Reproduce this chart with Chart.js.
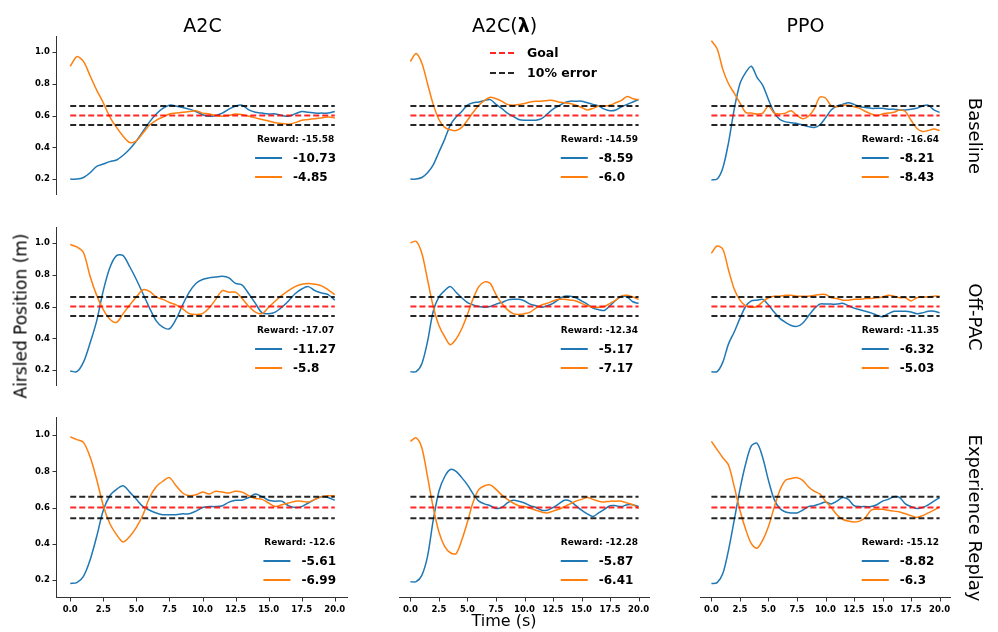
<!DOCTYPE html>
<html><head><meta charset="utf-8">
<script src="https://cdn.jsdelivr.net/npm/chart.js@4.4.0/dist/chart.umd.min.js"></script>
<style>
html,body{margin:0;padding:0;background:#fff;}
#wrap{position:relative;width:998px;height:632px;overflow:hidden;font-family:"DejaVu Sans",sans-serif;background:#fff;}
#wrap canvas{position:absolute;left:0;top:0;}
.t{position:absolute;white-space:nowrap;color:#000;line-height:1;transform:translate(-50%,-50%);}
.rot90{transform:translate(-50%,-50%) rotate(90deg);}
.rotm90{transform:translate(-50%,-50%) rotate(-90deg);}
</style></head><body><div id="wrap"></div>
<script>
// ---------- data ----------
const timeSteps = [0,0.5,1,1.5,2,2.5,3,3.5,4,4.5,5,5.5,6,6.5,7,7.5,8,8.5,9,9.5,10,10.5,11,11.5,12,12.5,13,13.5,14,14.5,15,15.5,16,16.5,17,17.5,18,18.5,19,19.5,20];
const columnTitles = ['A2C', 'A2C(<b>λ</b>)', 'PPO'];
const rowTitles = ['Baseline', 'Off-PAC', 'Experience Replay'];
const xTicks = [0,2.5,5,7.5,10,12.5,15,17.5,20];
const yTicks = [0.2,0.4,0.6,0.8,1.0];
const goalLevel = 0.6;
const errorUpper = 0.66;
const errorLower = 0.54;
const goalSpan = [0, 20];

// Baseline row
const a2cBaseBlue = [0.20,0.20,0.21,0.24,0.28,0.295,0.31,0.32,0.35,0.39,0.44,0.50,0.56,0.61,0.645,0.665,0.66,0.65,0.64,0.625,0.605,0.595,0.60,0.615,0.64,0.66,0.665,0.635,0.62,0.615,0.61,0.61,0.60,0.595,0.61,0.625,0.62,0.615,0.615,0.615,0.625];
const a2cBaseOrange = [0.91,0.97,0.94,0.85,0.76,0.68,0.59,0.525,0.47,0.43,0.44,0.49,0.54,0.57,0.59,0.61,0.615,0.62,0.625,0.63,0.615,0.61,0.60,0.595,0.60,0.61,0.605,0.595,0.585,0.575,0.565,0.555,0.55,0.545,0.555,0.57,0.575,0.58,0.585,0.59,0.585];
const a2cLamBaseBlue = [0.20,0.20,0.21,0.24,0.29,0.37,0.45,0.54,0.59,0.625,0.665,0.68,0.685,0.695,0.70,0.67,0.645,0.615,0.595,0.575,0.57,0.57,0.57,0.58,0.61,0.64,0.66,0.68,0.69,0.69,0.69,0.68,0.67,0.66,0.64,0.63,0.635,0.655,0.67,0.685,0.70];
const a2cLamBaseOrange = [0.94,0.99,0.93,0.80,0.67,0.575,0.525,0.51,0.505,0.525,0.57,0.62,0.665,0.695,0.715,0.705,0.69,0.67,0.665,0.67,0.675,0.685,0.69,0.69,0.695,0.695,0.685,0.68,0.675,0.665,0.65,0.635,0.645,0.66,0.66,0.665,0.68,0.695,0.72,0.705,0.70];
const ppoBaseBlue = [0.195,0.20,0.27,0.43,0.64,0.80,0.87,0.91,0.84,0.79,0.70,0.62,0.575,0.56,0.555,0.55,0.54,0.53,0.525,0.54,0.585,0.635,0.66,0.67,0.68,0.67,0.655,0.65,0.645,0.645,0.645,0.64,0.64,0.635,0.635,0.64,0.645,0.66,0.665,0.635,0.62];
const ppoBaseOrange = [1.07,1.02,0.89,0.80,0.74,0.68,0.62,0.615,0.61,0.615,0.66,0.615,0.61,0.615,0.63,0.60,0.58,0.595,0.64,0.715,0.71,0.66,0.655,0.665,0.665,0.655,0.645,0.625,0.61,0.60,0.61,0.615,0.62,0.635,0.625,0.57,0.52,0.50,0.505,0.515,0.505];

// Off-PAC row
const a2cOffBlue = [0.195,0.19,0.25,0.37,0.51,0.70,0.845,0.92,0.92,0.85,0.77,0.68,0.59,0.51,0.47,0.46,0.52,0.61,0.69,0.745,0.77,0.78,0.785,0.79,0.78,0.745,0.735,0.68,0.62,0.56,0.555,0.565,0.595,0.635,0.68,0.71,0.725,0.70,0.685,0.675,0.64];
const a2cOffOrange = [0.99,0.975,0.94,0.79,0.67,0.58,0.52,0.50,0.555,0.61,0.66,0.705,0.695,0.66,0.645,0.625,0.61,0.585,0.555,0.55,0.555,0.59,0.645,0.70,0.69,0.69,0.65,0.60,0.565,0.555,0.595,0.635,0.67,0.70,0.725,0.74,0.745,0.74,0.73,0.705,0.675];
const a2cLamOffBlue = [0.19,0.19,0.24,0.38,0.57,0.66,0.70,0.725,0.69,0.655,0.625,0.61,0.60,0.595,0.60,0.615,0.625,0.64,0.645,0.645,0.635,0.615,0.605,0.595,0.605,0.62,0.645,0.665,0.665,0.655,0.635,0.615,0.59,0.58,0.575,0.605,0.64,0.665,0.66,0.63,0.62];
const a2cLamOffOrange = [1.0,1.01,0.935,0.77,0.60,0.48,0.41,0.36,0.395,0.46,0.55,0.65,0.725,0.755,0.745,0.675,0.62,0.58,0.555,0.55,0.555,0.565,0.59,0.61,0.62,0.635,0.645,0.645,0.64,0.635,0.62,0.605,0.595,0.595,0.60,0.62,0.64,0.665,0.67,0.66,0.645];
const ppoOffBlue = [0.19,0.19,0.25,0.365,0.44,0.525,0.60,0.635,0.64,0.645,0.61,0.565,0.525,0.50,0.48,0.475,0.495,0.54,0.585,0.615,0.615,0.615,0.615,0.62,0.605,0.59,0.58,0.57,0.56,0.545,0.535,0.555,0.57,0.57,0.57,0.565,0.555,0.56,0.57,0.57,0.56];
const ppoOffOrange = [0.935,0.98,0.96,0.83,0.71,0.64,0.605,0.595,0.60,0.63,0.655,0.665,0.665,0.67,0.67,0.665,0.665,0.665,0.67,0.675,0.675,0.655,0.65,0.64,0.64,0.645,0.645,0.65,0.65,0.655,0.66,0.67,0.665,0.655,0.655,0.635,0.655,0.66,0.66,0.665,0.665];

// Experience Replay row
const a2cErBlue = [0.18,0.185,0.22,0.31,0.44,0.585,0.665,0.70,0.72,0.685,0.645,0.605,0.585,0.57,0.56,0.56,0.56,0.565,0.565,0.58,0.60,0.605,0.605,0.61,0.63,0.64,0.64,0.655,0.675,0.66,0.64,0.635,0.635,0.61,0.60,0.605,0.625,0.645,0.66,0.655,0.64];
const a2cErOrange = [0.99,0.975,0.96,0.88,0.755,0.61,0.51,0.45,0.41,0.44,0.49,0.56,0.655,0.715,0.745,0.765,0.72,0.68,0.665,0.67,0.685,0.675,0.69,0.685,0.68,0.69,0.685,0.665,0.65,0.645,0.625,0.605,0.615,0.625,0.635,0.635,0.63,0.645,0.66,0.665,0.665];
const a2cLamErBlue = [0.19,0.19,0.225,0.33,0.53,0.69,0.77,0.81,0.80,0.765,0.725,0.675,0.635,0.62,0.61,0.595,0.60,0.625,0.64,0.635,0.625,0.61,0.60,0.585,0.585,0.60,0.62,0.64,0.635,0.61,0.585,0.565,0.55,0.57,0.59,0.61,0.61,0.605,0.615,0.615,0.605];
const a2cLamErOrange = [0.965,0.985,0.93,0.77,0.60,0.465,0.385,0.35,0.345,0.42,0.52,0.63,0.70,0.72,0.725,0.70,0.67,0.645,0.625,0.61,0.605,0.595,0.585,0.575,0.57,0.58,0.59,0.605,0.62,0.635,0.645,0.655,0.645,0.635,0.63,0.635,0.635,0.635,0.625,0.615,0.595];
const ppoErBlue = [0.18,0.185,0.235,0.365,0.53,0.70,0.84,0.94,0.955,0.875,0.75,0.645,0.595,0.575,0.57,0.57,0.585,0.605,0.61,0.62,0.63,0.62,0.635,0.655,0.645,0.61,0.605,0.605,0.605,0.615,0.635,0.645,0.66,0.655,0.62,0.605,0.595,0.60,0.615,0.635,0.655];
const ppoErOrange = [0.965,0.92,0.875,0.835,0.715,0.585,0.48,0.40,0.375,0.42,0.495,0.60,0.695,0.75,0.76,0.765,0.75,0.715,0.69,0.675,0.635,0.60,0.56,0.535,0.525,0.52,0.525,0.545,0.585,0.59,0.59,0.585,0.58,0.575,0.565,0.555,0.545,0.555,0.57,0.585,0.605];

// legend numbers
const rewardLabels = [['-15.58','-14.59','-16.64'],['-17.07','-12.34','-11.35'],['-12.6','-12.28','-15.12']];
const blueLabels   = [['-10.73','-8.59','-8.21'],['-11.27','-5.17','-6.32'],['-5.61','-5.87','-8.82']];
const orangeLabels = [['-4.85','-6.0','-8.43'],['-5.8','-7.17','-5.03'],['-6.99','-6.41','-6.3']];
const legendGoal = 'Goal';
const legendError = '10% error';

const seriesGrid = [
  [[a2cBaseBlue,a2cBaseOrange],[a2cLamBaseBlue,a2cLamBaseOrange],[ppoBaseBlue,ppoBaseOrange]],
  [[a2cOffBlue,a2cOffOrange],[a2cLamOffBlue,a2cLamOffOrange],[ppoOffBlue,ppoOffOrange]],
  [[a2cErBlue,a2cErOrange],[a2cLamErBlue,a2cLamErOrange],[ppoErBlue,ppoErOrange]]
];

// ---------- layout ----------
const W = 998, H = 632;
const colL = [57, 359, 660], colR = [348, 650, 951];
const rowT = [36, 227, 417], rowB = [217, 408, 598];
const BLUE = '#1f77b4', ORANGE = '#ff7f0e', RED = 'rgba(255,0,0,0.85)', BLACK = 'rgba(0,0,0,0.85)';
const SPINE = '#333';
const FF = '"DejaVu Sans", sans-serif';
Chart.defaults.font.family = FF;

const wrap = document.getElementById('wrap');
function addText(html, x, y, size, cls, weight){
  const d = document.createElement('div');
  d.className = 't' + (cls ? ' ' + cls : '');
  d.innerHTML = html;
  d.style.left = x + 'px'; d.style.top = y + 'px';
  d.style.fontSize = size + 'px';
  if (weight) d.style.fontWeight = weight;
  wrap.appendChild(d);
}

function pts(arr){ return timeSteps.map((t,i)=>({x:t, y:arr[i]})); }
function hline(v){ return [{x:goalSpan[0], y:v},{x:goalSpan[1], y:v}]; }

// spines + tick marks drawn from the chart's own scales
const spinePlugin = {
  id: 'spines',
  afterDraw(chart){
    const o = chart.options.plugins.spines;
    const ctx = chart.ctx, a = chart.chartArea;
    ctx.save();
    ctx.strokeStyle = SPINE; ctx.lineWidth = 1;
    if (o.left) {
      const x = Math.round(a.left) - 0.5;
      ctx.beginPath(); ctx.moveTo(x, a.top); ctx.lineTo(x, a.bottom); ctx.stroke();
      yTicks.forEach(v => {
        const y = Math.round(chart.scales.y.getPixelForValue(v)) + 0.5;
        ctx.beginPath(); ctx.moveTo(x - 4, y); ctx.lineTo(x, y); ctx.stroke();
      });
    }
    if (o.bottom) {
      const y = Math.round(a.bottom) - 0.5;
      ctx.beginPath(); ctx.moveTo(a.left, y); ctx.lineTo(a.right, y); ctx.stroke();
      xTicks.forEach(v => {
        const x = Math.round(chart.scales.x.getPixelForValue(v)) + 0.5;
        ctx.beginPath(); ctx.moveTo(x, y); ctx.lineTo(x, y + 4); ctx.stroke();
      });
    }
    ctx.restore();
  }
};

const legendPlugin = {
  id: 'panelLegend',
  afterDatasetsDraw(chart){
    const o = chart.options.plugins.panelLegend;
    const r = o.row, c = o.col;
    const ctx = chart.ctx, a = chart.chartArea;
    ctx.save();
    const right = a.right - 12;
    const title = 'Reward: ' + rewardLabels[r][c];
    ctx.font = 'bold 9px ' + FF;
    const tw = ctx.measureText(title).width;
    ctx.font = 'bold 12px ' + FF;
    const ew = Math.max(ctx.measureText(blueLabels[r][c]).width, ctx.measureText(orangeLabels[r][c]).width);
    const boxW = Math.max(tw, 27 + 11 + ew);
    const left = right - boxW;
    ctx.fillStyle = '#000';
    ctx.textBaseline = 'middle';
    ctx.textAlign = 'center';
    ctx.font = 'bold 9px ' + FF;
    ctx.fillText(title, left + boxW/2, a.bottom - 55);
    ctx.textAlign = 'left';
    ctx.font = 'bold 12px ' + FF;
    const entries = [[BLUE, blueLabels[r][c], a.bottom - 37], [ORANGE, orangeLabels[r][c], a.bottom - 18]];
    entries.forEach(([col, lab, y])=>{
      ctx.strokeStyle = col; ctx.lineWidth = 2;
      ctx.beginPath(); ctx.moveTo(left, y); ctx.lineTo(left + 27, y); ctx.stroke();
      ctx.fillText(lab, left + 38, y + 0.5);
    });
    if (r === 0 && c === 1) {
      ctx.lineWidth = 2; ctx.setLineDash([6,3]);
      const lx = a.left + 91;
      [[RED, legendGoal, 53], [BLACK, legendError, 73]].forEach(([col, lab, y])=>{
        ctx.strokeStyle = col;
        ctx.beginPath(); ctx.moveTo(lx, y); ctx.lineTo(lx + 27, y); ctx.stroke();
        ctx.font = 'bold 12.5px ' + FF;
        ctx.fillText(lab, lx + 37, y + 0.5);
      });
    }
    ctx.restore();
  }
};

for (let r = 0; r < 3; r++) {
  for (let c = 0; c < 3; c++) {
    const cv = document.createElement('canvas');
    cv.width = W; cv.height = H;
    cv.style.width = W + 'px'; cv.style.height = H + 'px';
    wrap.appendChild(cv);
    const showY = c === 0, showX = r === 2;
    const yW = 40, xH = 22;
    const [blue, orange] = seriesGrid[r][c];
    const dash = {borderDash:[6,3], borderWidth:2, pointRadius:0, fill:false, tension:0};
    new Chart(cv, {
      type: 'line',
      data: {
        datasets: [
          {data: hline(errorUpper), borderColor: BLACK, ...dash},
          {data: hline(goalLevel), borderColor: RED, ...dash},
          {data: hline(errorLower), borderColor: BLACK, ...dash},
          {data: pts(orange), borderColor: ORANGE, borderWidth: 1.5, pointRadius: 0, tension: 0.3, fill: false},
          {data: pts(blue), borderColor: BLUE, borderWidth: 1.5, pointRadius: 0, tension: 0.3, fill: false}
        ]
      },
      options: {
        responsive: false, animation: false, devicePixelRatio: 1,
        layout: {padding: {
          left: showY ? colL[c] - yW : colL[c],
          right: W - colR[c],
          top: rowT[r],
          bottom: showX ? H - rowB[r] - xH : H - rowB[r]
        }},
        plugins: {legend: {display: false}, tooltip: {enabled: false},
                  panelLegend: {row: r, col: c}, spines: {left: showY, bottom: showX}},
        scales: {
          x: {
            type: 'linear', min: -1, max: 21, display: showX,
            afterBuildTicks: s => { s.ticks = xTicks.map(v => ({value: v})); },
            afterFit: s => { s.height = xH; },
            ticks: {callback: v => Number(v).toFixed(1), color: '#000', font: {size: 8.5, weight: 'bold'}, maxRotation: 0, autoSkip: false, padding: 7},
            grid: {display: false, drawTicks: false, tickLength: 0},
            border: {display: false}
          },
          y: {
            type: 'linear', min: 0.1, max: 1.1, display: showY,
            afterBuildTicks: s => { s.ticks = yTicks.map(v => ({value: v})); },
            afterFit: s => { s.width = yW; },
            ticks: {callback: v => Number(v).toFixed(1), color: '#000', font: {size: 8.5, weight: 'bold'}, padding: 7},
            grid: {display: false, drawTicks: false, tickLength: 0},
            border: {display: false}
          }
        }
      },
      plugins: [legendPlugin, spinePlugin]
    });
  }
}

// ---------- text labels ----------
columnTitles.forEach((t, c) => addText(t, (colL[c] + colR[c]) / 2, 25, 19));
const rowLabelY = [136, 317, 518];
rowTitles.forEach((t, r) => addText(t, 975, rowLabelY[r], 18, 'rot90'));
addText('Airsled Position (m)', 21, 316, 17, 'rotm90');
addText('Time (s)', 504, 621, 16);
</script>
</body></html>
